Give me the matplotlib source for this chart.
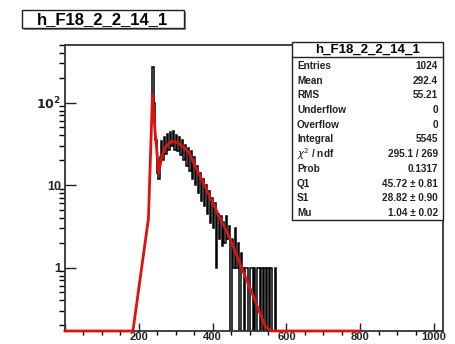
import numpy as np
import matplotlib
matplotlib.use("Agg")
import matplotlib.pyplot as plt
from matplotlib.patches import Rectangle
from matplotlib.ticker import FixedLocator, MultipleLocator, NullFormatter, LogLocator

plt.rcParams["font.family"] = ["Liberation Sans", "DejaVu Sans"]

HIST_NAME = "h_F18_2_2_14_1"

# histogram: bins of width 4 starting at 232
BIN_START = 232
BIN_WIDTH = 4
counts = [
    90, 270, 100, 35, 14, 12, 22, 34, 20, 38,
    24, 42, 27, 44, 30, 45, 27, 41, 26, 38,
    23, 35, 20, 31, 17, 28, 15, 26, 12, 22,
    10, 17, 8, 14, 6.5, 12, 5.5, 10, 4.5, 8.5,
    3.5, 7, 3, 6, 1, 4.5, 2.2, 4.2, 1.8, 3.6,
    2, 4.2, 2.2, 3.2, 0, 2.2, 1, 3, 1, 2,
    0, 1.5, 1, 0, 1, 1, 0, 1, 1, 0,
    1, 0, 1, 1, 0, 1, 0, 1, 0, 1,
    0, 1, 0, 0, 1, 0, 0,
]

# fit curve as drawn (x, y)
fit_x = [0, 184, 226, 237, 244, 254, 262, 272, 288, 304, 320, 336, 352, 368,
         384, 400, 416, 432, 448, 464, 480, 496, 512, 528, 544, 560, 800]
fit_y = [0, 0, 3.9, 125, 45, 14, 22, 29, 34, 33, 29, 25, 17, 12.4,
         8.7, 6.1, 4.3, 3.1, 2.2, 1.45, 0.96, 0.64, 0.43, 0.28, 0.19, 0, 0]

stats_labels = ["Entries", "Mean", "RMS", "Underflow", "Overflow", "Integral",
                r"$\chi^2$ / ndf", "Prob", "Q1", "S1", "Mu"]
stats_values = ["1024", "292.4", "55.21", "0", "0", "5545",
                "295.1 / 269", "0.1317", "45.72 ± 0.81", "28.82 ± 0.90", "1.04 ± 0.02"]

W, H = 456, 344
YMIN, YMAX = 0.17, 500


def fx(px):
    return px / W


def fy(py):
    return 1 - py / H


fig = plt.figure(figsize=(W / 100, H / 100), dpi=100)
fig.patch.set_facecolor("white")

ax = fig.add_axes([fx(65), fy(331), fx(443) - fx(65), fy(45) - fy(331)])

edges = BIN_START + BIN_WIDTH * np.arange(len(counts) + 1)
vals = np.array(counts, dtype=float)
vals = np.where(vals > 0, vals, 1e-3)
ax.stairs(vals, edges, color="black", lw=1.1, baseline=None)

fy_vals = np.maximum(np.array(fit_y, dtype=float), YMIN)
ax.plot(fit_x, fy_vals, color="#e01010", lw=2.0, clip_on=False, zorder=3,
        solid_joinstyle="round")

ax.set_yscale("log")
ax.set_xlim(0, 1024)
ax.set_ylim(YMIN, YMAX)

ax.xaxis.set_major_locator(FixedLocator([0, 200, 400, 600, 800, 1000]))
ax.set_xticklabels(["", "200", "400", "600", "800", "1000"])
ax.xaxis.set_minor_locator(MultipleLocator(50))
ax.yaxis.set_major_locator(FixedLocator([1, 10, 100]))
ax.set_yticklabels(["1", "10", r"$\mathbf{10^{2}}$"])
ax.yaxis.set_minor_locator(LogLocator(base=10, subs=np.arange(2, 10)))
ax.yaxis.set_minor_formatter(NullFormatter())

ax.tick_params(axis="both", direction="in", labelsize=9, colors="#222222")
ax.tick_params(axis="x", which="major", length=6, width=1, pad=0.5, labelsize=8)
ax.tick_params(axis="x", which="minor", length=3, width=1)
ax.tick_params(axis="y", which="major", length=8, width=1, pad=3)
ax.tick_params(axis="y", which="minor", length=4.3, width=1)
for lab in ax.get_xticklabels() + ax.get_yticklabels():
    lab.set_fontweight("bold")
for sp in ax.spines.values():
    sp.set_linewidth(1.3)
    sp.set_color("#333333")

# title box
fig.patches.append(Rectangle((fx(24), fy(30)), fx(162), 18 / H, transform=fig.transFigure,
                             facecolor="#888888", edgecolor="none", zorder=1))
fig.patches.append(Rectangle((fx(22), fy(28)), fx(162), 18 / H, transform=fig.transFigure,
                             facecolor="white", edgecolor="#222222", lw=1, zorder=2))
fig.text(fx(103), fy(19.5), HIST_NAME, ha="center", va="center",
         fontsize=12, fontweight="bold", zorder=3)

# stats box
bx0, bx1, by0, by1 = 292, 443, 42, 220
fig.patches.append(Rectangle((fx(bx0), fy(by1)), fx(bx1 - bx0), (by1 - by0) / H,
                             transform=fig.transFigure, facecolor="white",
                             edgecolor="#222222", lw=1, zorder=5))
fig.lines.append(plt.Line2D([fx(bx0), fx(bx1)], [fy(57), fy(57)], transform=fig.transFigure,
                            color="#222222", lw=1, zorder=6))
fig.text(fx((bx0 + bx1) / 2), fy(49.5), HIST_NAME, ha="center", va="center",
         fontsize=9.5, fontweight="bold", zorder=7)
for i, (lab, val) in enumerate(zip(stats_labels, stats_values)):
    yy = fy(66 + i * 14.7)
    fig.text(fx(297), yy, lab, ha="left", va="center", fontsize=7.2,
             fontweight="bold", color="#222222", zorder=7)
    fig.text(fx(438), yy, val, ha="right", va="center", fontsize=7.2,
             fontweight="bold", color="#222222", zorder=7)

fig.savefig("out.png", dpi=100)
